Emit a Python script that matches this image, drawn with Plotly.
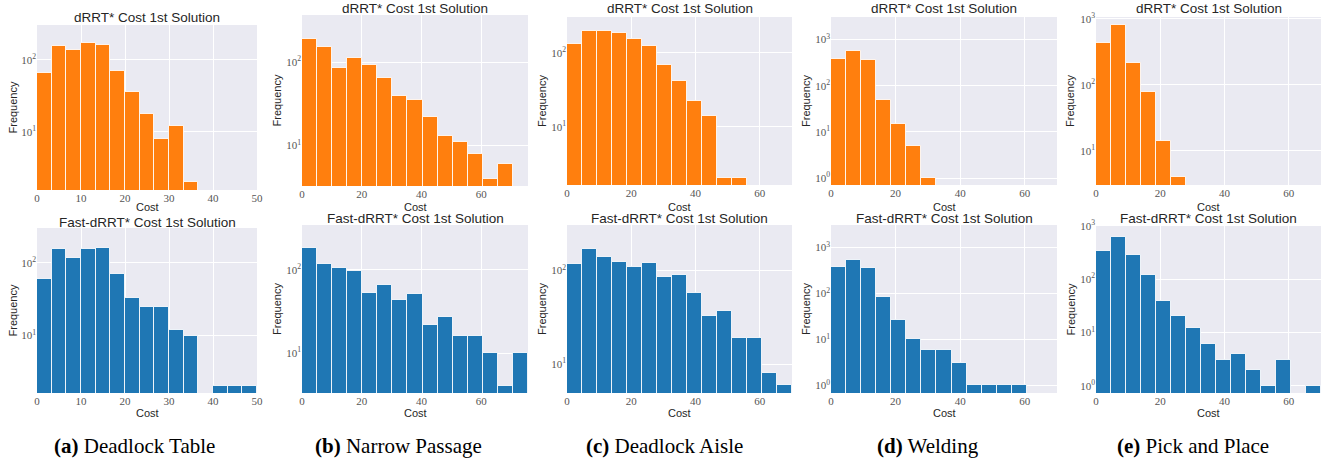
import numpy as np
import plotly.graph_objects as go

# ---------------- data ----------------
panel_letters = ["a", "b", "c", "d", "e"]
panel_names = ["Deadlock Table", "Narrow Passage", "Deadlock Aisle", "Welding", "Pick and Place"]
cost_max = [50, 75.6, 70, 70, 70]
n_bins = 15
x_tick_step = [10, 20, 20, 20, 20]

drrt_a = [65, 158, 139, 174, 162, 71, 36, 18, 8, 12, 2, 0, 0, 0, 0]
drrt_b = [189, 151, 84, 111, 92, 65, 39, 35, 22, 13, 11, 8, 4, 6, 0]
drrt_c = [130, 196, 196, 185, 155, 124, 69, 42, 22, 14, 2, 2, 0, 0, 0]
drrt_d = [377, 560, 370, 50, 15, 5, 1, 0, 0, 0, 0, 0, 0, 0, 0]
drrt_e = [425, 790, 212, 77, 14, 4, 0, 0, 0, 0, 0, 0, 0, 0, 0]

fast_a = [61, 156, 117, 154, 159, 70, 33, 25, 25, 12, 10, 0, 2, 2, 2]
fast_b = [182, 119, 105, 97, 53, 66, 43, 51, 22, 27, 16, 16, 10, 4, 10]
fast_c = [119, 172, 141, 123, 109, 120, 86, 89, 57, 33, 37, 19, 19, 8, 6]
fast_d = [373, 540, 356, 82, 26, 10, 6, 6, 3, 1, 1, 1, 1, 0, 0]
fast_e = [342, 615, 280, 122, 39, 20, 12, 6, 3, 4, 2, 1, 3, 0, 1]

drrt_counts = [drrt_a, drrt_b, drrt_c, drrt_d, drrt_e]
fast_counts = [fast_a, fast_b, fast_c, fast_d, fast_e]

y_tickvals = [1, 10, 100, 1000]
y_ticktext = ["10<sup>0</sup>", "10<sup>1</sup>", "10<sup>2</sup>", "10<sup>3</sup>"]

top_title = "dRRT* Cost 1st Solution"
bot_title = "Fast-dRRT* Cost 1st Solution"

# ---------------- layout (pixels) ----------------
W, H = 1337, 462
col_x = [(37, 257), (302, 528), (567, 792), (831, 1057), (1096, 1321)]
top_y = [(25, 190), (15, 186), (17, 185), (17, 185), (17, 185)]
bot_y = [(228, 393), (225, 393), (225, 393), (225, 393), (226, 393)]
top_yrange = [(0.194, 2.486), (0.516, 2.564), (0.212, 2.486), (-0.151, 3.49), (0.482, 3.025)]
bot_yrange = [(0.211, 2.48), (0.52, 2.54), (0.69, 2.488), (-0.167, 3.49), (-0.137, 3.0)]
title_y_top = [17, 9, 9, 9, 9]
title_y_bot = [222, 218, 218, 218, 218]
freq_x = [12, 277, 542, 806, 1070]
cost_y_top = 207
cost_y_bot = 413
caption_x = [134, 398, 664, 928, 1193]
caption_y = 446

ORANGE = "#FF7F0E"
BLUE = "#1F77B4"
BG = "#EAEAF2"
SANS = "Liberation Sans, Arial, sans-serif"
SERIF = "Liberation Serif, Times New Roman, serif"

def px_x(v):
    return v / W

def px_y(v):
    return 1 - v / H

fig = go.Figure()
layout = dict(
    width=W, height=H,
    margin=dict(l=0, r=0, t=0, b=0, autoexpand=False),
    paper_bgcolor="white",
    plot_bgcolor=BG,
    showlegend=False,
    bargap=0,
)
annotations = []

for row in range(2):
    for c in range(5):
        k = row * 5 + c + 1
        counts = drrt_counts[c] if row == 0 else fast_counts[c]
        color = ORANGE if row == 0 else BLUE
        edges = np.linspace(0, cost_max[c], n_bins + 1)
        width = edges[1] - edges[0]
        centers = edges[:-1] + width / 2
        yvals = [v if v > 0 else None for v in counts]
        xa = "x" if k == 1 else f"x{k}"
        ya = "y" if k == 1 else f"y{k}"
        fig.add_trace(go.Bar(
            x=centers, y=yvals, width=[width] * n_bins,
            marker=dict(color=color, line=dict(color="rgba(255,255,255,0.85)", width=1)),
            xaxis=xa, yaxis=ya, hoverinfo="x+y",
        ))
        yd = top_y[c] if row == 0 else bot_y[c]
        yr = top_yrange[c] if row == 0 else bot_yrange[c]
        xkey = "xaxis" if k == 1 else f"xaxis{k}"
        ykey = "yaxis" if k == 1 else f"yaxis{k}"
        layout[xkey] = dict(
            domain=[px_x(col_x[c][0]), px_x(col_x[c][1])],
            anchor=ya, range=[0, cost_max[c]], automargin=False,
            tick0=0, dtick=x_tick_step[c],
            showgrid=True, gridcolor="white", gridwidth=1.2,
            zeroline=False, showline=False, ticks="",
            tickfont=dict(family=SERIF, size=11, color="#555555"),
        )
        layout[ykey] = dict(
            domain=[px_y(yd[1]), px_y(yd[0])],
            anchor=xa, type="log", range=list(yr), automargin=False,
            tickmode="array", tickvals=y_tickvals, ticktext=y_ticktext,
            showgrid=True, gridcolor="white", gridwidth=1.2,
            zeroline=False, showline=False, ticks="",
            tickfont=dict(family=SERIF, size=11, color="#555555"),
        )
        # subplot title
        annotations.append(dict(
            text=top_title if row == 0 else bot_title,
            x=px_x((col_x[c][0] + col_x[c][1]) / 2),
            y=px_y(title_y_top[c] if row == 0 else title_y_bot[c]),
            xref="paper", yref="paper", xanchor="center", yanchor="middle",
            showarrow=False, font=dict(family=SANS, size=13.5, color="#262626"),
        ))
        # axis titles
        annotations.append(dict(
            text="Cost",
            x=px_x((col_x[c][0] + col_x[c][1]) / 2),
            y=px_y(cost_y_top if row == 0 else cost_y_bot),
            xref="paper", yref="paper", xanchor="center", yanchor="middle",
            showarrow=False, font=dict(family=SANS, size=11, color="#262626"),
        ))
        annotations.append(dict(
            text="Frequency", textangle=-90,
            x=px_x(freq_x[c]),
            y=px_y((yd[0] + yd[1]) / 2),
            xref="paper", yref="paper", xanchor="center", yanchor="middle",
            showarrow=False, font=dict(family=SANS, size=11, color="#262626"),
        ))

for c in range(5):
    annotations.append(dict(
        text=f"<b>({panel_letters[c]})</b> {panel_names[c]}",
        x=px_x(caption_x[c]), y=px_y(caption_y),
        xref="paper", yref="paper", xanchor="center", yanchor="middle",
        showarrow=False, font=dict(family=SERIF, size=21, color="black"),
    ))

layout["annotations"] = annotations
fig.update_layout(**layout)
fig.write_html(
    "out.html",
    config={"displayModeBar": False},
    post_script="document.body.style.margin='0';document.body.style.overflow='hidden';",
)
